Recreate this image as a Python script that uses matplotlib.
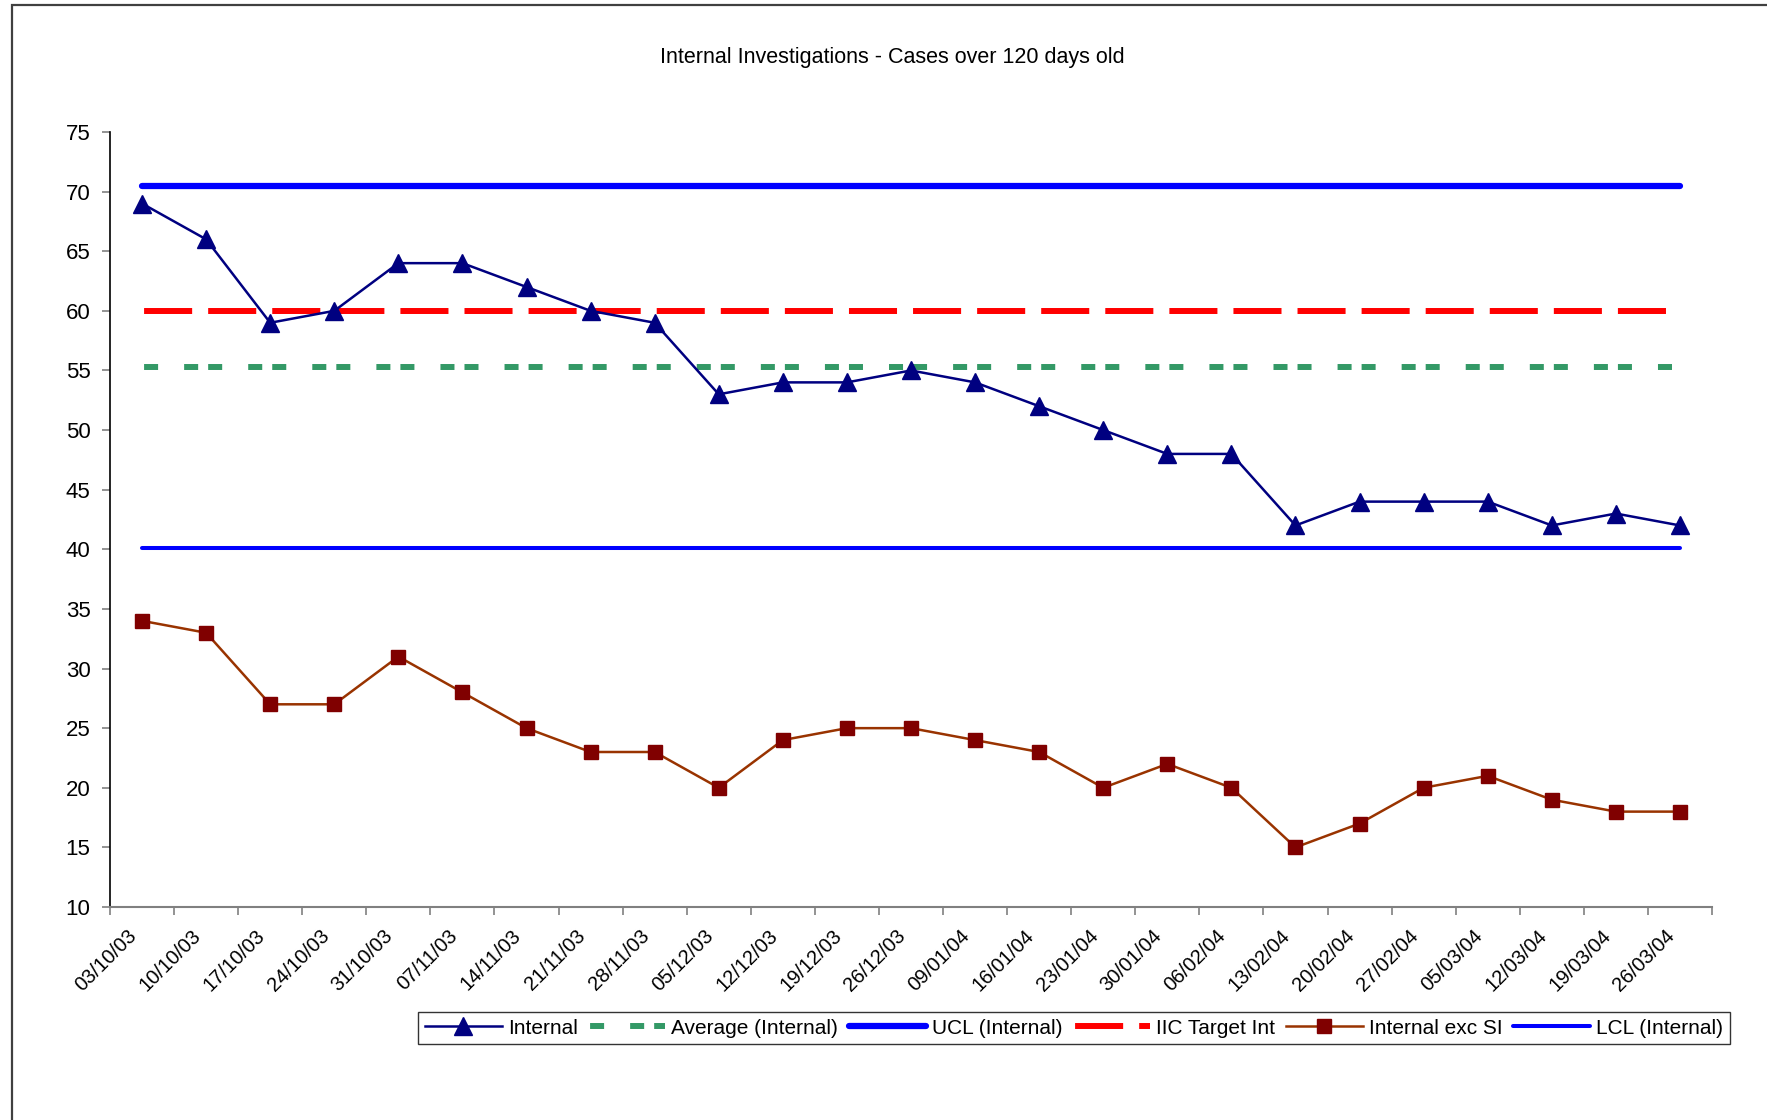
import numpy as np
import matplotlib
matplotlib.use("Agg")
from matplotlib import pyplot as plt
from matplotlib.patches import Rectangle
from matplotlib.transforms import ScaledTranslation

plt.rcParams['font.family'] = ['Liberation Sans', 'DejaVu Sans']
plt.rcParams['lines.scale_dashes'] = False

# weekly dates (category axis)
dates = ['03/10/03', '10/10/03', '17/10/03', '24/10/03', '31/10/03', '07/11/03',
         '14/11/03', '21/11/03', '28/11/03', '05/12/03', '12/12/03', '19/12/03',
         '26/12/03', '09/01/04', '16/01/04', '23/01/04', '30/01/04', '06/02/04',
         '13/02/04', '20/02/04', '27/02/04', '05/03/04', '12/03/04', '19/03/04',
         '26/03/04']

internal = [69, 66, 59, 60, 64, 64, 62, 60, 59, 53, 54, 54, 55, 54, 52, 50,
            48, 48, 42, 44, 44, 44, 42, 43, 42]
internal_exc_si = [34, 33, 27, 27, 31, 28, 25, 23, 23, 20, 24, 25, 25, 24, 23,
                   20, 22, 20, 15, 17, 20, 21, 19, 18, 18]

average_internal = 55.25
ucl_internal = 70.5
lcl_internal = 40.1
iic_target = 60

x = np.arange(len(dates))
n = len(dates)

fig = plt.figure(figsize=(17.67, 11.2), dpi=100)
ax = fig.add_axes([110 / 1767, 1 - 907 / 1120, 1602 / 1767, 775 / 1120])

# chart border (cut off at right / bottom like the source)
fig.patches.append(Rectangle((12 / 1767, -0.1), 1.2, 1.1 - 5 / 1120,
                             transform=fig.transFigure, fill=False,
                             edgecolor='#404040', linewidth=1.6))

# dash patterns in points, one period per category (64.08 px)
k = (1602 / n * 0.72) / 46.08
avg_dash = tuple(v * k for v in (10.08, 18.72, 10.08, 7.2))
tgt_dash = tuple(v * k for v in (34.56, 11.52))

l_int, = ax.plot(x, internal, color='#000080', linewidth=1.8, marker='^',
                 markersize=12.5, markerfacecolor='#000080',
                 markeredgecolor='#000080', zorder=5)
l_avg, = ax.plot(x, [average_internal] * n, color='#339966', linewidth=4.3,
                 linestyle=(sum(avg_dash) - 1.5, avg_dash), zorder=3)
l_ucl, = ax.plot(x, [ucl_internal] * n, color='#0000FF', linewidth=4.5,
                 solid_capstyle='round', zorder=3)
l_tgt, = ax.plot(x, [iic_target] * n, color='#FF0000', linewidth=4.3,
                 linestyle=(sum(tgt_dash) - 1.5, tgt_dash), zorder=3)
l_exc, = ax.plot(x, internal_exc_si, color='#993300', linewidth=1.8,
                 marker='s', markersize=10.5, markerfacecolor='#800000',
                 markeredgecolor='#800000', zorder=5)
l_lcl, = ax.plot(x, [lcl_internal] * n, color='#0000FF', linewidth=2.9,
                 solid_capstyle='round', zorder=3)

ax.set_xlim(-0.5, n - 0.5)
ax.set_ylim(10, 75)
ax.set_yticks(np.arange(10, 80, 5))

# ticks between categories, labels on categories
ax.set_xticks(np.arange(-0.5, n, 1.0))
ax.set_xticklabels([])
ax.set_xticks(x, minor=True)
ax.set_xticklabels(dates, minor=True, rotation=45, ha='right', va='top',
                   rotation_mode='anchor', fontsize=14.5)
ax.tick_params(axis='x', which='minor', length=0, pad=15)
ax.tick_params(axis='x', which='major', length=6, color='#808080', width=1.2,
               direction='out')
ax.tick_params(axis='y', length=6, color='#808080', width=1.2, labelsize=16,
               pad=8)
# nudge date labels left so the text ends at the category centre
shift = ScaledTranslation(-15 / 100, 2 / 100, fig.dpi_scale_trans)
for lab in ax.get_xticklabels(minor=True):
    lab.set_transform(lab.get_transform() + shift)

for side in ['top', 'right']:
    ax.spines[side].set_visible(False)
ax.spines['left'].set_color('black')
ax.spines['bottom'].set_color('#808080')
ax.spines['left'].set_linewidth(1.2)
ax.spines['bottom'].set_linewidth(1.5)

fig.text(892 / 1767, 1 - 58 / 1120,
         'Internal Investigations - Cases over 120 days old',
         ha='center', va='center', fontsize=15.5)

handles = [l_int, l_avg, l_ucl, l_tgt, l_exc, l_lcl]
labels = ['Internal', 'Average (Internal)', 'UCL (Internal)', 'IIC Target Int',
          'Internal exc SI', 'LCL (Internal)']
leg = fig.legend(handles, labels, loc='center', ncol=6,
                 bbox_to_anchor=(1074 / 1767, 1 - 1028 / 1120),
                 fontsize=15, frameon=True, fancybox=False, shadow=False,
                 handlelength=3.7, handletextpad=0.3, columnspacing=0.5,
                 borderpad=0.3, borderaxespad=0)
leg.get_frame().set_edgecolor('black')
leg.get_frame().set_linewidth(1.0)

fig.savefig('out.png', dpi=100)
